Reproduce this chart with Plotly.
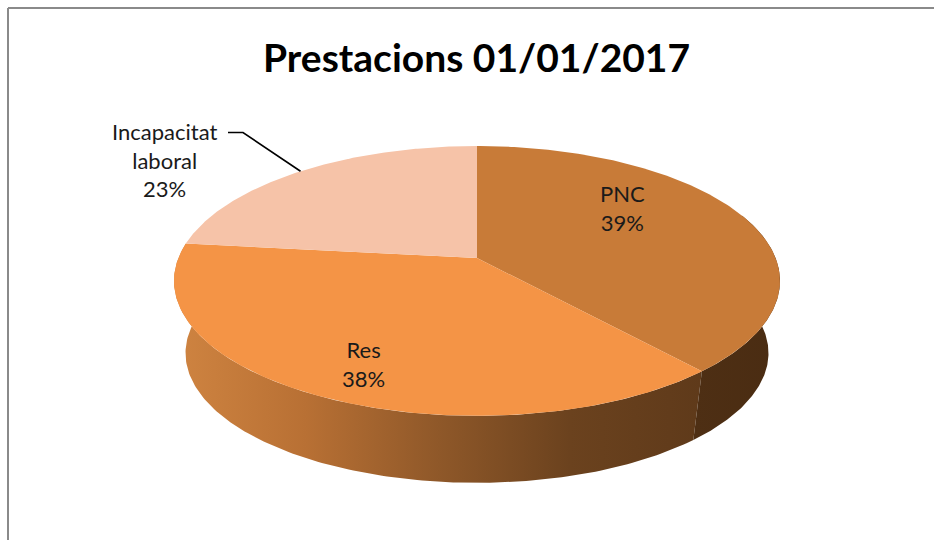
import numpy as np
import plotly.graph_objects as go

categories = ["PNC", "Res", "Incapacitat<br>laboral"]
values = [38.6, 38.2, 23.2]
top_colors = ["#C87B38", "#F49446", "#F6C3A8"]
wall_scales = [
    [[0, "#4E2F14"], [1, "#4A2C12"]],
    [[0, "#CF8441"], [0.25, "#B87034"], [0.5, "#8F5829"], [0.75, "#6B421E"], [1, "#5F3A1A"]],
    None,
]
title_text = "Prestacions 01/01/2017"

# Projection of the tilted disc (a perspective view of a circle)
CX, CY = 477, 258
A, B, K = 298.6, 131.0, 0.17
DEPTH_SCALE, DEPTH_Y = 0.962, 73


def project(theta_deg, r=1.0, bottom=False):
    t = np.radians(np.asarray(theta_deg, dtype=float))
    X, Y = r * np.sin(t), -r * np.cos(t)
    w = 1 - K * Y
    x, y = A * X / w, B * Y / w
    if bottom:
        return CX + x * DEPTH_SCALE, CY + DEPTH_Y + y * DEPTH_SCALE
    return CX + x, CY + y


total = sum(values)
edges = np.concatenate([[0], np.cumsum(values)]) / total * 360

fig = go.Figure()

# side walls (only the front half of the disc shows)
for i in [1, 0]:
    a0, a1 = edges[i], edges[i + 1]
    if i == 0:
        a0 = 70.0
    th = np.linspace(a0, a1, 160)
    xt, yt = project(th)
    xb, yb = project(th[::-1], bottom=True)
    fig.add_trace(go.Scatter(
        x=np.concatenate([xt, xb]), y=np.concatenate([yt, yb]),
        mode="lines", line=dict(width=0), fill="toself",
        fillgradient=dict(type="horizontal", colorscale=wall_scales[i]),
        hoverinfo="skip", showlegend=False))

# top faces
for i in range(len(values)):
    th = np.linspace(edges[i], edges[i + 1], 200)
    xt, yt = project(th)
    fig.add_trace(go.Scatter(
        x=np.concatenate([[CX], xt, [CX]]), y=np.concatenate([[CY], yt, [CY]]),
        mode="lines", line=dict(width=0), fill="toself", fillcolor=top_colors[i],
        hoverinfo="skip", showlegend=False))

# leader line for the outside label
mid = (edges[2] + edges[3]) / 2
lx, ly = project(mid)
fig.add_trace(go.Scatter(x=[228, 243, float(lx)], y=[132.5, 132.5, float(ly)], mode="lines",
                         line=dict(color="#000000", width=1.6), hoverinfo="skip", showlegend=False))

# data labels
label_pos = [(622, 208), (363, 364), (164, 160)]
for c, v, (x, y) in zip(categories, values, label_pos):
    fig.add_annotation(x=x, y=y, text=f"{c}<br>{round(v / total * 100)}%", showarrow=False,
                       font=dict(family="Lato", size=22, color="#1A1A1A"), align="center")

fig.add_annotation(x=476, y=57, text=f"<b>{title_text}</b>", showarrow=False,
                   font=dict(family="Lato", size=39, color="#000000"))

# chart frame
fig.add_shape(type="line", x0=8, x1=934, y0=8, y1=8, line=dict(color="#8A8A8A", width=2))
fig.add_shape(type="line", x0=8, x1=8, y0=8, y1=540, line=dict(color="#8A8A8A", width=2))

fig.update_layout(
    width=934, height=540, margin=dict(l=0, r=0, t=0, b=0),
    paper_bgcolor="white", plot_bgcolor="white", showlegend=False,
    xaxis=dict(range=[0, 934], visible=False, fixedrange=True),
    yaxis=dict(range=[540, 0], visible=False, fixedrange=True),
)

fig.write_html("out.html", config={"displayModeBar": False},
               post_script="document.body.style.margin='0';document.body.style.overflow='hidden';")
